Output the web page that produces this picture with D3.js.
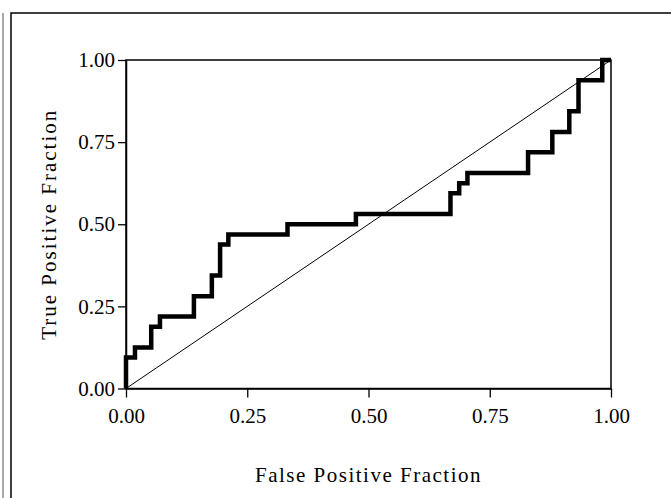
<!DOCTYPE html>
<html>
<head>
<meta charset="utf-8">
<script src="https://cdn.jsdelivr.net/npm/d3@7"></script>
<style>
  html, body { margin: 0; padding: 0; background: #fff; }
  svg { display: block; }
</style>
</head>
<body>
<svg id="chart" width="671" height="498"></svg>
<script>
// ROC staircase points (false positive fraction, true positive fraction)
const fpf = [0, 0, 0.0185, 0.052, 0.070, 0.140, 0.177, 0.194, 0.211, 0.333, 0.474,
             0.669, 0.687, 0.704, 0.829, 0.879, 0.914, 0.933, 0.982, 1.0];
const tpf = [0, 0.094, 0.125, 0.188, 0.219, 0.281, 0.344, 0.438, 0.469, 0.500, 0.531,
             0.594, 0.625, 0.656, 0.719, 0.781, 0.844, 0.938, 1.0, 1.0];

// chance line
const diagX = [0, 1];
const diagY = [0, 1];

const tickValues = [0, 0.25, 0.5, 0.75, 1];
const xTitle = "False Positive Fraction";
const yTitle = "True Positive Fraction";

const svg = d3.select("#chart");
const font = "'Liberation Serif', 'DejaVu Serif', serif";

// page frame from the scan
svg.append("line")
    .attr("x1", 3).attr("x2", 3)
    .attr("y1", 13).attr("y2", 498)
    .attr("stroke", "#555")
    .attr("stroke-width", 1);
svg.append("rect")
    .attr("x", 11).attr("y", 13)
    .attr("width", 700).attr("height", 520)
    .attr("fill", "none")
    .attr("stroke", "#000")
    .attr("stroke-width", 1.5);

const x = d3.scaleLinear().domain([0, 1]).range([126, 611]);
const y = d3.scaleLinear().domain([0, 1]).range([388.5, 60]);

// plot box (top and right sides)
svg.append("rect")
    .attr("x", x(0)).attr("y", y(1))
    .attr("width", x(1) - x(0)).attr("height", y(0) - y(1))
    .attr("fill", "none")
    .attr("stroke", "#000")
    .attr("stroke-width", 1.5);

const xAxis = svg.append("g")
    .attr("transform", `translate(0,${y(0)})`)
    .call(d3.axisBottom(x).tickValues(tickValues).tickFormat(d3.format(".2f"))
        .tickSize(9).tickSizeOuter(0).tickPadding(11));

const yAxis = svg.append("g")
    .attr("transform", `translate(${x(0)},0)`)
    .call(d3.axisLeft(y).tickValues(tickValues).tickFormat(d3.format(".2f"))
        .tickSize(8).tickSizeOuter(0).tickPadding(3));

[xAxis, yAxis].forEach(g => {
    g.select(".domain").attr("stroke", "#000").attr("stroke-width", 1.5);
    g.selectAll(".tick line").attr("stroke", "#000").attr("stroke-width", 1.3);
    g.selectAll(".tick text")
        .attr("font-family", font)
        .attr("font-size", "21px")
        .attr("fill", "#000");
});

// diagonal reference line
const diag = diagX.map((d, i) => [d, diagY[i]]);
svg.append("path")
    .datum(diag)
    .attr("d", d3.line().x(d => x(d[0])).y(d => y(d[1])))
    .attr("fill", "none")
    .attr("stroke", "#000")
    .attr("stroke-width", 1);

// empirical ROC curve
const roc = fpf.map((d, i) => [d, tpf[i]]);
svg.append("path")
    .datum(roc)
    .attr("d", d3.line().curve(d3.curveStepAfter).x(d => x(d[0])).y(d => y(d[1])))
    .attr("fill", "none")
    .attr("stroke", "#000")
    .attr("stroke-width", 4.5)
    .attr("stroke-linejoin", "miter");

// axis titles
svg.append("text")
    .attr("x", (x(0) + x(1)) / 2)
    .attr("y", 482)
    .attr("text-anchor", "middle")
    .attr("font-family", font)
    .attr("font-size", "21px")
    .attr("letter-spacing", "1.5px")
    .text(xTitle);

svg.append("text")
    .attr("transform", `translate(56,${(y(0) + y(1)) / 2}) rotate(-90)`)
    .attr("text-anchor", "middle")
    .attr("font-family", font)
    .attr("font-size", "21px")
    .attr("letter-spacing", "2px")
    .text(yTitle);
</script>
</body>
</html>
